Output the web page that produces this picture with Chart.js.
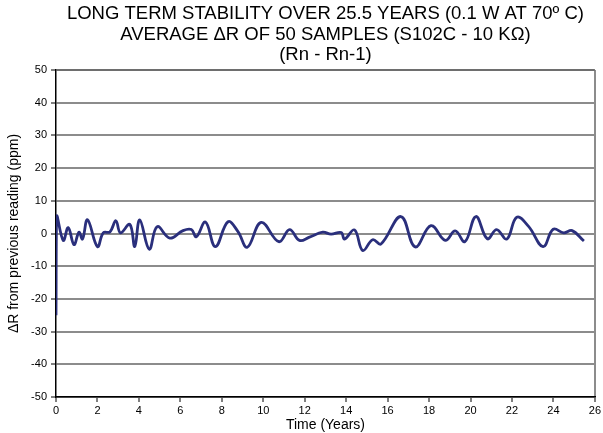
<!DOCTYPE html>
<html>
<head>
<meta charset="utf-8">
<script src="https://cdn.jsdelivr.net/npm/chart.js@4"></script>
<style>
  html, body { margin: 0; padding: 0; background: #fff; }
  #wrap { width: 603px; height: 433px; }
</style>
</head>
<body>
<div id="wrap"><canvas id="stabilityChart" width="603" height="433"></canvas></div>
<script>
const titleLines = [
    'LONG TERM STABILITY OVER 25.5 YEARS (0.1 W AT 70\u00BA C)',
    'AVERAGE \u0394R OF 50 SAMPLES (S102C - 10 K\u03A9)',
    '(Rn - Rn-1)'
]

// time in years, delta R in ppm
const years = [0, 0.03, 0.35, 0.59, 0.87, 1.11, 1.28, 1.52, 2.0, 2.28, 2.6, 2.89, 3.11, 3.56, 3.8, 4.04, 4.5, 4.88,
    5.49, 6.13, 6.53, 6.77, 7.21, 7.69, 8.3, 8.78, 9.23, 9.9, 10.75, 11.27, 11.75, 12.23, 12.87, 13.27, 13.76, 13.92,
    14.4, 14.8, 15.28, 15.68, 16.64, 17.33, 18.09, 18.78, 19.26, 19.73, 20.26, 20.81, 21.26, 21.75, 22.23, 22.8,
    23.5, 23.99, 24.5, 24.9, 25.47]
const deltaR = [-25, 5.2, -2.1, 1.8, -3.4, 0.4, -1.7, 4.2, -4.0, 0.2, 0.5, 3.9, 0.2, 2.8, -4.0, 4.2, -4.8, 2.1,
    -1.4, 0.9, 1.2, -1.0, 3.5, -4.0, 3.6, 0.6, -4.2, 3.4, -2.5, 1.2, -2.1, -1.1, 0.4, -0.2, 0.3, -1.7,
    1.1, -5.2, -1.9, -3.2, 5.2, -4.1, 2.4, -2.1, 0.8, -2.5, 5.2, -1.6, 1.2, -1.7, 5.0, 2.2,
    -4.0, 1.3, 0.2, 0.9, -2.3]

const xMin = 0, xMax = 26, xStep = 2
const yMin = -50, yMax = 50, yStep = 10

const points = years.map((t, i) => ({ x: t, y: deltaR[i] }))
const fontFamily = '"Liberation Sans", Arial, sans-serif'

var ctx = document.getElementById('stabilityChart')
var myChart = new Chart(ctx, {
    type: 'line',
    data: {
        datasets: [{
            label: 'dR',
            data: points,
            borderColor: '#2a2f7c',
            borderWidth: 2.8,
            pointRadius: 0,
            tension: 0.4,
            fill: false
        }]
    },
    options: {
        responsive: false,
        animation: false,
        layout: { padding: { left: 0, right: 7, top: 0, bottom: 0 } },
        plugins: {
            legend: { display: false },
            tooltip: { enabled: false },
            title: {
                display: true,
                fullSize: false,
                text: titleLines,
                color: '#000',
                font: { family: fontFamily, size: 18.5, weight: 'normal', lineHeight: 1.1 },
                padding: { top: 4, bottom: 5 }
            }
        },
        scales: {
            x: {
                type: 'linear',
                min: xMin,
                max: xMax,
                ticks: { stepSize: xStep, color: '#000', font: { family: fontFamily, size: 11 }, padding: 2, maxRotation: 0 },
                grid: {
                    color: c => c.tick && c.tick.value === xMax ? '#8c8c8c' : 'rgba(0,0,0,0)',
                    lineWidth: 2,
                    tickColor: '#000',
                    tickLength: 5,
                    tickWidth: 1
                },
                border: { color: '#000', width: 1.5 },
                title: { display: true, text: 'Time (Years)', color: '#000', font: { family: fontFamily, size: 14 }, padding: { top: 0, bottom: -1 } },
                afterFit: s => { s.height = 36 }
            },
            y: {
                min: yMin,
                max: yMax,
                ticks: { stepSize: yStep, color: '#000', font: { family: fontFamily, size: 11 }, padding: 4 },
                grid: {
                    color: c => c.tick && c.tick.value === yMax ? '#6e6e6e' : '#8c8c8c',
                    lineWidth: 2,
                    tickColor: '#000',
                    tickLength: 5,
                    tickWidth: 1
                },
                border: { color: '#000', width: 1.5 },
                title: { display: true, text: '\u0394R from previous reading (ppm)', color: '#000', font: { family: fontFamily, size: 14 }, padding: { top: 6, bottom: 0 } },
                afterFit: s => { s.width = 56 }
            }
        }
    }
})
</script>
</body>
</html>
